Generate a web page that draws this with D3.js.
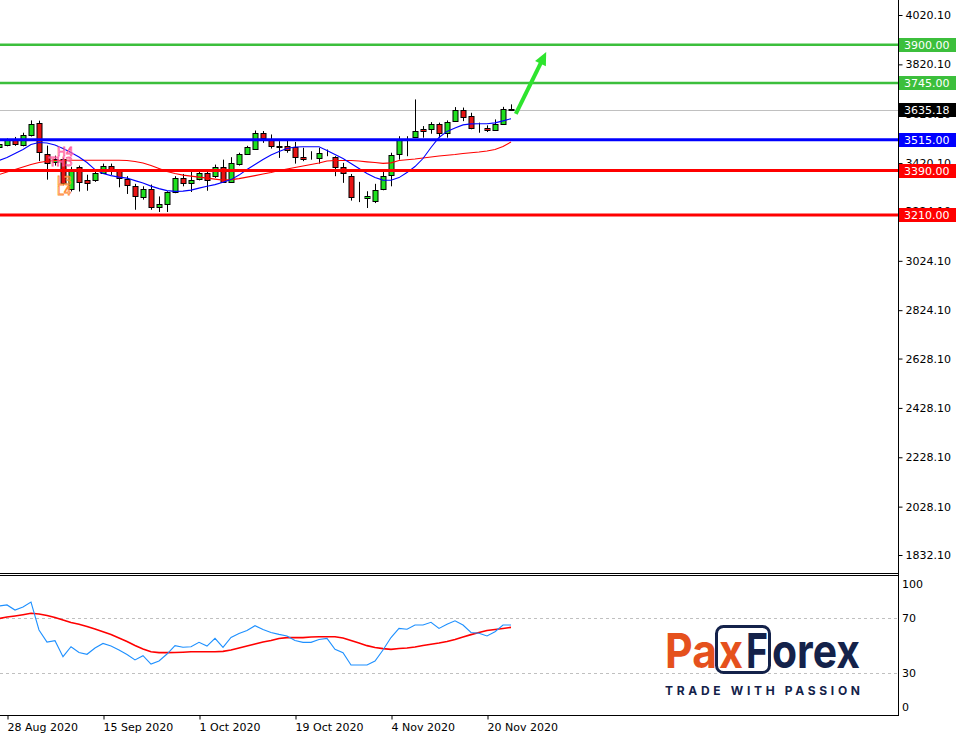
<!DOCTYPE html>
<html><head><meta charset="utf-8">
<script src="https://cdn.jsdelivr.net/npm/d3@7"></script>
<style>body{margin:0;background:#fff}svg{display:block}</style>
</head><body><svg id="c" width="960" height="735"></svg>
<script>
// ---------- DATA ----------
const dates = ["2020-08-27","2020-08-28","2020-08-31","2020-09-01","2020-09-02","2020-09-03","2020-09-04","2020-09-07","2020-09-08","2020-09-09","2020-09-10","2020-09-11","2020-09-14","2020-09-15","2020-09-16","2020-09-17","2020-09-18","2020-09-21","2020-09-22","2020-09-23","2020-09-24","2020-09-25","2020-09-28","2020-09-29","2020-09-30","2020-10-01","2020-10-02","2020-10-05","2020-10-06","2020-10-07","2020-10-08","2020-10-09","2020-10-12","2020-10-13","2020-10-14","2020-10-15","2020-10-16","2020-10-19","2020-10-20","2020-10-21","2020-10-22","2020-10-23","2020-10-26","2020-10-27","2020-10-28","2020-10-29","2020-10-30","2020-11-02","2020-11-03","2020-11-04","2020-11-05","2020-11-06","2020-11-09","2020-11-10","2020-11-11","2020-11-12","2020-11-13","2020-11-16","2020-11-17","2020-11-18","2020-11-19","2020-11-20","2020-11-23","2020-11-24","2020-11-25"];
const opens = [3487,3495,3512,3493,3533,3584,3458,3423,3436,3315,
  3403,3350,3350,3380,3410,3390,3356,3326,3283,3315,
  3241,3256,3303,3360,3340,3357,3380,3369,3405,3344,
  3417,3458,3479,3543,3512,3489,3489,3485,3446,3444,
  3441,3460,3444,3405,3367,3289,3278,3268,3316,3373,
  3455,3505,3525,3559,3559,3580,3543,3590,3634,3611,
  3566,3563,3554,3580,3638];
const highs = [3502,3520,3526,3543,3593,3592,3491,3450,3440,3405,
  3410,3373,3388,3418,3418,3395,3367,3336,3326,3333,
  3285,3306,3367,3376,3384,3394,3385,3414,3434,3444,
  3462,3490,3552,3550,3536,3509,3512,3506,3482,3468,
  3482,3475,3448,3421,3376,3344,3306,3336,3387,3462,
  3529,3529,3678,3570,3586,3584,3593,3647,3645,3624,
  3584,3573,3597,3648,3658];
const lows = [3480,3488,3490,3488,3528,3428,3353,3410,3330,3305,
  3305,3308,3344,3376,3372,3322,3295,3231,3272,3231,
  3222,3222,3298,3326,3303,3350,3308,3360,3340,3340,
  3410,3455,3475,3502,3479,3441,3462,3418,3428,3434,
  3418,3448,3367,3340,3268,3262,3238,3258,3310,3326,
  3434,3448,3525,3523,3539,3523,3523,3588,3590,3557,
  3543,3546,3552,3575,3631];
const closes = [3496,3512,3497,3533,3580,3466,3421,3436,3340,3394,
  3344,3340,3379,3410,3387,3360,3330,3285,3315,3241,
  3256,3303,3360,3340,3353,3380,3352,3405,3344,3421,
  3458,3486,3543,3523,3489,3487,3472,3444,3437,3446,
  3462,3462,3403,3381,3283,3291,3288,3312,3369,3451,
  3513,3507,3549,3549,3580,3543,3588,3634,3608,3563,
  3568,3553,3580,3641,3635.18];
const maFast = [3430.4,3442.6,3458.9,3475.1,3495.5,3503.6,3501.6,3493.4,3479.4,3462.9,
  3444.7,3422.3,3393.8,3377.6,3369.4,3363.3,3359.3,3349.1,3339.0,3326.8,
  3316.6,3308.4,3305.6,3306.4,3310.5,3318.6,3325.9,3332.8,3342.2,3353.1,
  3371.4,3393.8,3414.1,3434.5,3452.8,3467.0,3479.2,3485.3,3486.1,3486.1,
  3486.1,3471.1,3454.8,3438.6,3418.2,3397.9,3377.6,3361.3,3351.1,3350.3,
  3361.3,3381.6,3406.0,3438.6,3483.3,3523.9,3548.4,3562.6,3574.8,3578.9,
  3579.7,3579.7,3582.9,3591.0,3600.0];
const maSlow = [3373.5,3383.6,3393.8,3404.0,3414.1,3422.3,3427.6,3430.4,3431.6,3431.6,
  3431.6,3431.6,3431.6,3431.6,3431.6,3431.6,3430.4,3426.3,3420.2,3410.1,
  3397.9,3385.7,3377.6,3371.4,3367.4,3363.3,3359.3,3355.2,3351.1,3353.1,
  3357.2,3363.3,3369.4,3375.6,3381.6,3389.8,3395.8,3402.0,3408.1,3414.1,
  3420.2,3428.4,3430.4,3430.4,3430.4,3428.4,3425.1,3422.3,3419.0,3421.1,
  3430.4,3433.3,3436.5,3440.6,3444.7,3448.7,3451.6,3454.8,3458.9,3461.7,
  3465.0,3469.1,3475.1,3487.4,3505.7];
const oscMain = [78.7,79.5,75.8,78.0,81.6,61.3,52.5,53.5,41.9,49.1,
  44.9,43.6,48.2,51.5,49.6,46.7,43.5,39.5,42.6,36.5,
  38.7,43.8,49.9,48.7,49.1,52.3,49.6,55.2,48.7,55.8,
  58.7,60.9,64.4,61.6,59.5,58.1,56.9,53.6,52.3,52.3,
  54.4,55.2,47.2,44.8,35.8,35.8,35.8,38.7,46.7,55.8,
  62.4,61.8,64.9,64.9,66.9,62.4,65.4,68.0,64.9,59.5,
  58.9,56.9,60.0,64.9,64.9];
const oscSignal = [69.6,70.7,71.5,72.4,73.4,72.9,71.8,70.4,68.5,66.7,
  65.4,63.8,62.0,60.0,58.0,55.5,52.9,50.0,47.5,45.5,
  44.8,44.8,44.9,45.1,45.4,45.5,45.5,45.5,45.7,46.7,
  48.2,49.6,51.1,52.5,53.6,55.1,55.7,55.7,55.7,56.2,
  56.4,56.4,56.4,55.5,53.6,51.8,49.9,48.5,47.7,47.2,
  47.8,48.2,48.9,50.0,50.9,51.8,52.9,54.4,56.2,57.9,
  59.5,60.9,61.6,62.4,63.2];
const priceTicks = [4020.1,3820.1,3620.1,3420.1,3224.1,3024.1,2824.1,2628.1,2428.1,2228.1,2028.1,1832.1];
const oscTicks = [100,70,30,0];
const oscLevels = [70,30];
const dateTicks = ["2020-08-28","2020-09-15","2020-10-01","2020-10-19","2020-11-04","2020-11-20"];
const dateTickLabels = ["28 Aug 2020","15 Sep 2020","1 Oct 2020","19 Oct 2020","4 Nov 2020","20 Nov 2020"];
const levelValues = [3900.00,3745.00,3515.00,3390.00,3210.00];
const currentPrice = 3635.18;
const arrowFrom = {bar: 64.6, price: 3619};
const arrowTo = {bar: 68.4, price: 3870};

// ---------- STYLES ----------
const levelColors = ["#3cbf3c","#3cbf3c","#0000ff","#ff0000","#ff0000"];
const levelWidths = [2.5,2.5,3,3,3];
const font = "DejaVu Sans, Verdana, sans-serif";

// ---------- LAYOUT ----------
const svg = d3.select("#c");
const axisX = 898, mainBottom = 573, oscTopY = 575, oscBottom = 715;
const n = dates.length;
const x = d3.scaleLinear().domain([0, n-1]).range([-1, -1 + 8*(n-1)]);
const y = d3.scaleLinear().domain([1832.1, 4020.1]).range([555, 15]);
const yo = d3.scaleLinear().domain([0,100]).range([714.25, 576.75]);

const defs = svg.append("defs");
defs.append("clipPath").attr("id","mclip").append("rect").attr("x",0).attr("y",0).attr("width",axisX).attr("height",mainBottom);
defs.append("clipPath").attr("id","oclip").append("rect").attr("x",0).attr("y",oscTopY+1).attr("width",axisX).attr("height",oscBottom-oscTopY-1);

const main = svg.append("g").attr("clip-path","url(#mclip)");

// current price line
main.append("line").attr("x1",0).attr("x2",axisX)
  .attr("y1",Math.round(y(currentPrice))+0.5).attr("y2",Math.round(y(currentPrice))+0.5)
  .attr("stroke","#c0c0c0").attr("stroke-width",1);

// candles
const bars = d3.range(n).map(i => ({i, o:opens[i], h:highs[i], l:lows[i], c:closes[i]}));
const cg = main.append("g");
cg.selectAll("line.w").data(bars).join("line").attr("class","w")
  .attr("x1",d=>x(d.i)+0.5).attr("x2",d=>x(d.i)+0.5)
  .attr("y1",d=>y(d.h)).attr("y2",d=>y(d.l))
  .attr("stroke","#000").attr("stroke-width",1);
cg.selectAll("rect.b").data(bars).join("rect").attr("class","b")
  .attr("x",d=>x(d.i)-2)
  .attr("width",5)
  .attr("y",d=>Math.round(y(Math.max(d.o,d.c)))+0.5)
  .attr("height",d=>Math.max(0, Math.round(y(Math.min(d.o,d.c)))-Math.round(y(Math.max(d.o,d.c)))))
  .attr("fill",d=>d.c>=d.o ? "#1fe01f" : "#e81414")
  .attr("stroke","#000").attr("stroke-width",1);

// moving averages
const maLine = arr => d3.line().x((d,i)=>x(i)).y(d=>y(d))(arr);
main.append("path").attr("d",maLine(maSlow)).attr("fill","none").attr("stroke","#ff0000").attr("stroke-width",1.1);
main.append("path").attr("d",maLine(maFast)).attr("fill","none").attr("stroke","#0000ff").attr("stroke-width",1.1);

// level lines
levelValues.forEach((v,k)=>{
  main.append("line").attr("x1",0).attr("x2",axisX).attr("y1",y(v)).attr("y2",y(v))
    .attr("stroke",levelColors[k]).attr("stroke-width",levelWidths[k]);
});

// object labels
const lab = main.append("g").attr("font-family",font).attr("font-size",12);
[["H4",57,156,"#ff5a9c"],["TH3",49,166,"#ff5a9c"],["L3",57,185,"#ff8a33"],["L4",57,195,"#ff8a33"]].forEach(t=>{
  lab.append("text").attr("x",t[1]).attr("y",t[2]).text(t[0]).attr("fill","none").attr("stroke",t[3]).attr("stroke-width",0.8);
});

// arrow
const ax1 = x(arrowFrom.bar), ay1 = y(arrowFrom.price), ax2 = x(arrowTo.bar), ay2 = y(arrowTo.price);
const dx = ax2-ax1, dy = ay2-ay1, len = Math.hypot(dx,dy), ux = dx/len, uy = dy/len;
const hl = 13, hw = 6;
const bx = ax2-ux*hl, by = ay2-uy*hl;
main.append("line").attr("x1",ax1).attr("y1",ay1).attr("x2",bx+ux*2).attr("y2",by+uy*2)
  .attr("stroke","#2ee42e").attr("stroke-width",4);
main.append("polygon").attr("points",[[ax2,ay2],[bx-uy*hw,by+ux*hw],[bx+uy*hw,by-ux*hw]].map(p=>p.join(",")).join(" "))
  .attr("fill","#2ee42e");

// ---------- oscillator ----------
const og = svg.append("g").attr("clip-path","url(#oclip)");
oscLevels.forEach(v=>{
  og.append("line").attr("x1",0).attr("x2",axisX).attr("y1",Math.round(yo(v))+0.5).attr("y2",Math.round(yo(v))+0.5)
    .attr("stroke","#c0c0c0").attr("stroke-dasharray","3,3");
});
const oLine = arr => d3.line().x((d,i)=>x(i)).y(d=>yo(d))(arr);
og.append("path").attr("d",oLine(oscSignal)).attr("fill","none").attr("stroke","#ff0000").attr("stroke-width",1.6);
og.append("path").attr("d",oLine(oscMain)).attr("fill","none").attr("stroke","#1e90ff").attr("stroke-width",1.1);

// ---------- logo ----------
const logo = svg.append("g").attr("font-family","Inter, Roboto, sans-serif").attr("font-weight",700);
const orange = "#e5511d", navy = "#14224a";
logo.append("rect").attr("x",716.5).attr("y",626.5).attr("width",53).attr("height",46).attr("rx",7)
  .attr("fill","#fff").attr("stroke",navy).attr("stroke-width",3);
logo.append("text").attr("x",665).attr("y",668).attr("font-size",48).attr("fill",orange).attr("textLength",52).attr("lengthAdjust","spacingAndGlyphs").text("Pa");
logo.append("text").attr("x",719).attr("y",668).attr("font-size",48).attr("fill",orange).attr("textLength",24).attr("lengthAdjust","spacingAndGlyphs").text("x");
logo.append("text").attr("x",746).attr("y",668).attr("font-size",48).attr("fill",navy).attr("textLength",22).attr("lengthAdjust","spacingAndGlyphs").text("F");
logo.append("text").attr("x",772).attr("y",668).attr("font-size",48).attr("fill",navy).attr("textLength",88).attr("lengthAdjust","spacingAndGlyphs").text("orex");
logo.append("text").attr("x",665).attr("y",695).attr("font-size",12).attr("fill",navy).attr("textLength",195).attr("lengthAdjust","spacing").text("TRADE WITH PASSION");

// ---------- frames & axes ----------
const fr = svg.append("g").attr("stroke","#000").attr("stroke-width",1).attr("shape-rendering","crispEdges");
fr.append("line").attr("x1",axisX+0.5).attr("x2",axisX+0.5).attr("y1",0).attr("y2",oscBottom+0.5);
fr.append("line").attr("x1",0).attr("x2",axisX+0.5).attr("y1",mainBottom+0.5).attr("y2",mainBottom+0.5);
fr.append("line").attr("x1",0).attr("x2",axisX+0.5).attr("y1",oscTopY+0.5).attr("y2",oscTopY+0.5);
fr.append("line").attr("x1",0).attr("x2",axisX+0.5).attr("y1",oscBottom+0.5).attr("y2",oscBottom+0.5);

const yAxis = svg.append("g").attr("transform",`translate(${axisX+0.5},0)`)
  .call(d3.axisRight(y).tickValues(priceTicks).tickFormat(d3.format(".2f")).tickSize(4).tickPadding(3));
yAxis.select(".domain").remove();
yAxis.selectAll("text").attr("font-family",font).attr("font-size",11).attr("fill","#000");
yAxis.selectAll("line").attr("stroke","#000");

const xAxis = svg.append("g").attr("transform",`translate(0,${oscBottom+0.5})`)
  .call(d3.axisBottom(x).tickValues(dateTicks.map(d=>dates.indexOf(d))).tickFormat((d,i)=>dateTickLabels[i]).tickSize(4).tickPadding(2));
xAxis.select(".domain").remove();
xAxis.selectAll("line").attr("stroke","#000").attr("transform","translate(0.5,0)");
xAxis.selectAll("text").attr("font-family",font).attr("font-size",11).attr("fill","#000")
  .attr("text-anchor","start").attr("x",0).attr("dy","0.85em");

// osc axis labels
const oa = svg.append("g").attr("font-family",font).attr("font-size",11).attr("fill","#000");
oscTicks.forEach(v=>{
  const off = v===100 ? 7 : (v===0 ? -7 : 0);
  oa.append("text").attr("x",902).attr("y",yo(v)+off).attr("dy","0.35em").text(v);
});

// level labels (boxes)
const bl = svg.append("g").attr("font-family",font).attr("font-size",11);
const boxes = levelValues.map((v,k)=>({v, c:levelColors[k], t:d3.format(".2f")(v)}))
  .concat([{v:currentPrice, c:"#000", t:d3.format(".2f")(currentPrice)}]);
boxes.forEach(b=>{
  const yy = Math.round(y(b.v));
  bl.append("rect").attr("x",899).attr("y",yy-7).attr("width",57).attr("height",14).attr("fill",b.c);
  bl.append("text").attr("x",904).attr("y",yy).attr("dy","0.36em").attr("fill","#fff").text(b.t);
});
</script></body></html>
